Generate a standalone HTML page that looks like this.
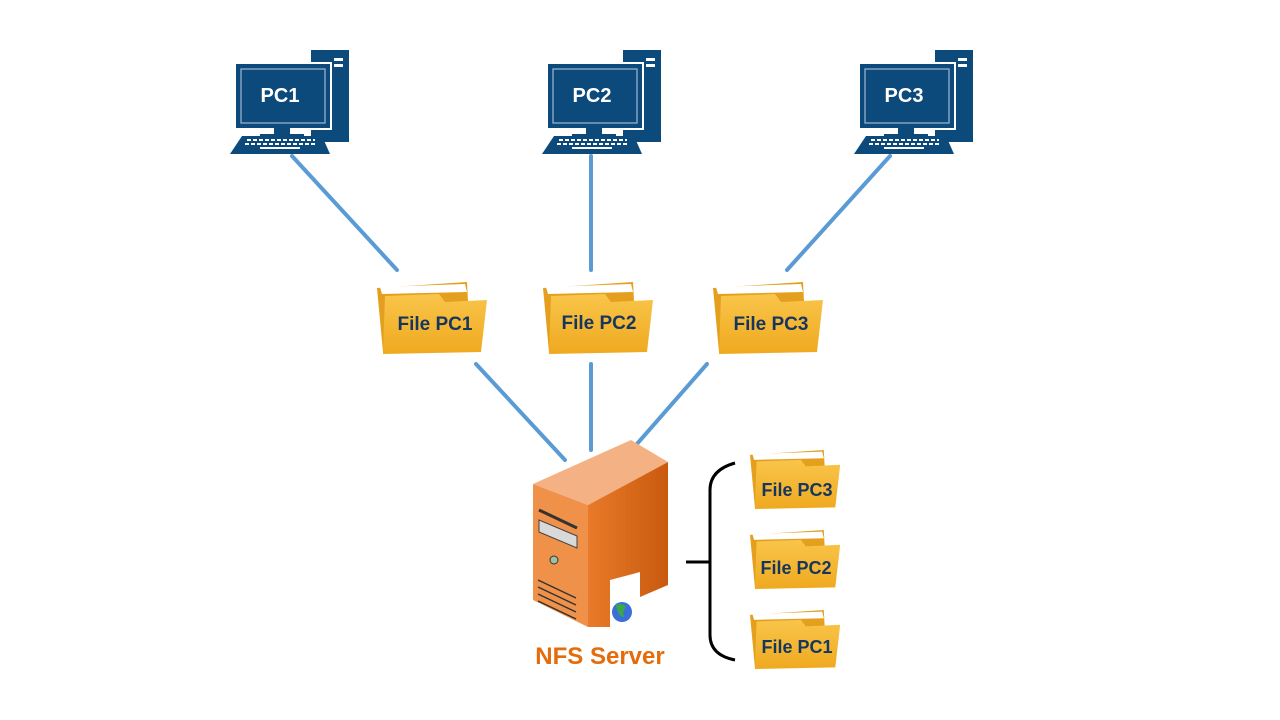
<!DOCTYPE html>
<html><head><meta charset="utf-8"><style>
html,body{margin:0;padding:0;background:#fff;width:1280px;height:720px;overflow:hidden}
svg text{font-family:"Liberation Sans",sans-serif;font-weight:bold}
</style></head><body>
<svg width="1280" height="720" viewBox="0 0 1280 720" xmlns="http://www.w3.org/2000/svg">
<defs>
<linearGradient id="fg" x1="0" y1="0" x2="0" y2="1"><stop offset="0" stop-color="#f9c54a"/><stop offset="1" stop-color="#efa91f"/></linearGradient>
<linearGradient id="sv" x1="0" y1="0" x2="1" y2="0"><stop offset="0" stop-color="#e87a2a"/><stop offset="1" stop-color="#c95a0e"/></linearGradient>
<g id="pc">
  <rect x="81" y="0" width="38" height="92" fill="#0d4a7c"/>
  <rect x="104" y="8" width="9" height="3" fill="#fff"/>
  <rect x="104" y="14" width="9" height="3" fill="#fff"/>
  <rect x="4" y="12" width="98" height="68" fill="#fff"/>
  <rect x="6" y="14" width="94" height="64" fill="#0d4a7c"/>
  <rect x="11" y="19" width="84" height="54" fill="none" stroke="#9fb9d3" stroke-width="1.2"/>
  <rect x="44" y="78" width="16" height="8" fill="#0d4a7c"/>
  <rect x="30" y="84" width="44" height="4" fill="#0d4a7c"/>
  <polygon points="12,86 92,86 100,104 0,104" fill="#0d4a7c"/>
  <g stroke="#fff" stroke-width="2" stroke-dasharray="4,2"><line x1="17" y1="90" x2="85" y2="90"/><line x1="15" y1="94" x2="87" y2="94"/></g>
  <rect x="30" y="97" width="40" height="2" fill="#fff"/>
</g>
<g id="fold">
  <polygon points="0,6 90,0 93,58 6,70" fill="#e49f1e"/>
  <polygon points="3,5 88,2 90,10 5,12" fill="#fff"/>
  <path d="M8,14 L62,12 L68,20 L110,18 L104,70 L6,72 Z" fill="url(#fg)"/>
</g>
</defs>
<g stroke="#5b9bd5" stroke-width="4" stroke-linecap="round">
<line x1="292" y1="156" x2="397" y2="270"/>
<line x1="591" y1="156" x2="591" y2="270"/>
<line x1="890" y1="156" x2="787" y2="270"/>
<line x1="476" y1="364" x2="565" y2="460"/>
<line x1="591" y1="364" x2="591" y2="450"/>
<line x1="707" y1="364" x2="636" y2="445"/>
</g>
<use href="#pc" x="230" y="50"/>
<use href="#pc" x="542" y="50"/>
<use href="#pc" x="854" y="50"/>
<g fill="#fff" font-size="20" text-anchor="middle">
<text x="280" y="102" fill="#fff">PC1</text>
<text x="592" y="102" fill="#fff">PC2</text>
<text x="904" y="102" fill="#fff">PC3</text>
</g>
<use href="#fold" x="377" y="282"/>
<use href="#fold" x="543" y="282"/>
<use href="#fold" x="713" y="282"/>
<g fill="#17365d" font-size="19" text-anchor="middle">
<text x="435" y="330">File PC1</text>
<text x="599" y="329">File PC2</text>
<text x="771" y="330">File PC3</text>
</g>
<g transform="translate(750,450) scale(0.82)"><use href="#fold"/></g>
<g transform="translate(750,530) scale(0.82)"><use href="#fold"/></g>
<g transform="translate(750,610) scale(0.82)"><use href="#fold"/></g>
<g fill="#17365d" font-size="18" text-anchor="middle">
<text x="797" y="496">File PC3</text>
<text x="796" y="574">File PC2</text>
<text x="797" y="653">File PC1</text>
</g>
<path d="M735,463 Q710,470 710,490 L710,635 Q710,655 735,660" fill="none" stroke="#000" stroke-width="3"/>
<line x1="686" y1="562" x2="710" y2="562" stroke="#000" stroke-width="3"/>
<polygon points="533,484 631,440 668,462 588,505" fill="#f4b183"/>
<polygon points="588,505 668,462 668,585 640,597 640,572 610,580 610,627 588,627" fill="url(#sv)"/>
<polygon points="533,484 588,505 588,627 533,600" fill="#f0914a"/>
<path d="M539,510 L577,528" stroke="#333" stroke-width="3"/>
<polygon points="539,520 577,536 577,548 539,532" fill="#d9d9d9" stroke="#444" stroke-width="1"/>
<circle cx="554" cy="560" r="4" fill="#9fbf9f" stroke="#333"/>
<g stroke="#333" stroke-width="1.5"><line x1="538" y1="580" x2="576" y2="598"/><line x1="538" y1="587" x2="576" y2="605"/><line x1="538" y1="594" x2="576" y2="612"/><line x1="538" y1="601" x2="576" y2="619"/></g>
<circle cx="622" cy="612" r="10" fill="#3a6fd8"/>
<path d="M616,605 q6,-3 10,2 q-4,4 -2,10 q-6,0 -8,-12z" fill="#3aa84a"/>
<text x="600" y="664" fill="#e46c0a" font-size="24" text-anchor="middle">NFS Server</text>
</svg>
</body></html>
